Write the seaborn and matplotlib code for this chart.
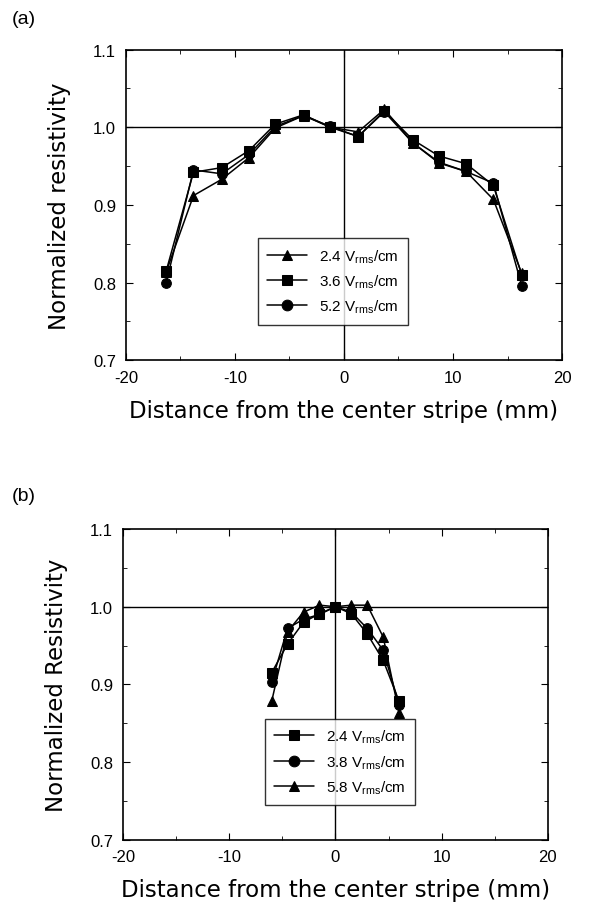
import pandas as pd
import seaborn as sns
import matplotlib
matplotlib.use("Agg")
import matplotlib.pyplot as plt
from matplotlib.ticker import MultipleLocator

# panel (a): distance (mm) and normalized resistivity
xa = [-16.3, -13.8, -11.2, -8.7, -6.3, -3.7, -1.25, 1.3, 3.7, 6.3, 8.7, 11.2, 13.7, 16.3]
a_24 = [0.814, 0.912, 0.933, 0.961, 0.999, 1.015, 1.000, 0.994, 1.023, 0.980, 0.954, 0.943, 0.907, 0.812]
a_36 = [0.815, 0.942, 0.948, 0.970, 1.004, 1.016, 1.000, 0.988, 1.021, 0.984, 0.963, 0.953, 0.925, 0.810]
a_52 = [0.800, 0.945, 0.940, 0.965, 1.001, 1.015, 1.001, 0.988, 1.020, 0.980, 0.955, 0.943, 0.928, 0.796]
labels_a = [r"2.4 V$_{\rm rms}$/cm", r"3.6 V$_{\rm rms}$/cm", r"5.2 V$_{\rm rms}$/cm"]

# panel (b)
xb = [-6.0, -4.5, -3.0, -1.5, 0.0, 1.5, 3.0, 4.5, 6.0]
b_24 = [0.915, 0.952, 0.980, 0.991, 1.000, 0.991, 0.965, 0.931, 0.878]
b_38 = [0.903, 0.972, 0.984, 0.990, 1.000, 0.993, 0.972, 0.944, 0.874]
b_58 = [0.878, 0.968, 0.993, 1.002, 1.000, 1.002, 1.002, 0.961, 0.863]
labels_b = [r"2.4 V$_{\rm rms}$/cm", r"3.8 V$_{\rm rms}$/cm", r"5.8 V$_{\rm rms}$/cm"]

sns.set_style("ticks")
plt.rcParams['font.family'] = ['Liberation Sans', 'DejaVu Sans']
plt.rcParams['mathtext.fontset'] = 'custom'
plt.rcParams['mathtext.rm'] = 'Liberation Sans'
plt.rcParams['axes.unicode_minus'] = False
plt.rcParams['text.color'] = 'black'
plt.rcParams['axes.labelcolor'] = 'black'
plt.rcParams['xtick.color'] = 'black'
plt.rcParams['ytick.color'] = 'black'

fig = plt.figure(figsize=(5.91, 9.03), dpi=100)
ax1 = fig.add_axes([0.213, 0.600, 0.738, 0.344])
ax2 = fig.add_axes([0.208, 0.069, 0.719, 0.344])


def draw(ax, x, series, markers, labels, ylabel, leg_box):
    for y, m, lab in zip(series, markers, labels):
        df = pd.DataFrame({"x": x, "y": y})
        sns.lineplot(data=df, x="x", y="y", ax=ax, color="black", marker=m,
                     markersize=7, markeredgecolor="black", linewidth=1.1,
                     label=lab, sort=False)
    ax.axhline(1.0, color="black", lw=1.0, zorder=0)
    ax.axvline(0.0, color="black", lw=1.0, zorder=0)
    ax.set_xlim(-20, 20)
    ax.set_ylim(0.7, 1.1)
    ax.xaxis.set_major_locator(MultipleLocator(10))
    ax.xaxis.set_minor_locator(MultipleLocator(5))
    ax.yaxis.set_major_locator(MultipleLocator(0.1))
    ax.yaxis.set_minor_locator(MultipleLocator(0.05))
    ax.tick_params(which="both", direction="in", top=True, right=True, colors="black")
    ax.tick_params(which="major", length=5, labelsize=12, pad=7)
    ax.tick_params(which="minor", length=3)
    for s in ax.spines.values():
        s.set_linewidth(1.2)
        s.set_color("black")
    ax.set_xlabel("Distance from the center stripe (mm)", fontsize=16.5,
                  family="DejaVu Sans", labelpad=10)
    ax.set_ylabel(ylabel, fontsize=16.5, family="DejaVu Sans", labelpad=16)
    leg = ax.legend(loc="lower left", bbox_to_anchor=leg_box, fontsize=11,
                    frameon=True, fancybox=False, edgecolor="black",
                    handlelength=2.6, borderpad=0.6, labelspacing=0.5,
                    markerscale=1.1)
    leg.get_frame().set_linewidth(1.0)


draw(ax1, xa, [a_24, a_36, a_52], ["^", "s", "o"], labels_a,
     "Normalized resistivity", (0.286, 0.09))
draw(ax2, xb, [b_24, b_38, b_58], ["s", "o", "^"], labels_b,
     "Normalized Resistivity", (0.316, 0.086))

fig.text(0.02, 0.978, "(a)", fontsize=14, va="center")
fig.text(0.02, 0.450, "(b)", fontsize=14, va="center")

fig.savefig("out.png", dpi=100)
